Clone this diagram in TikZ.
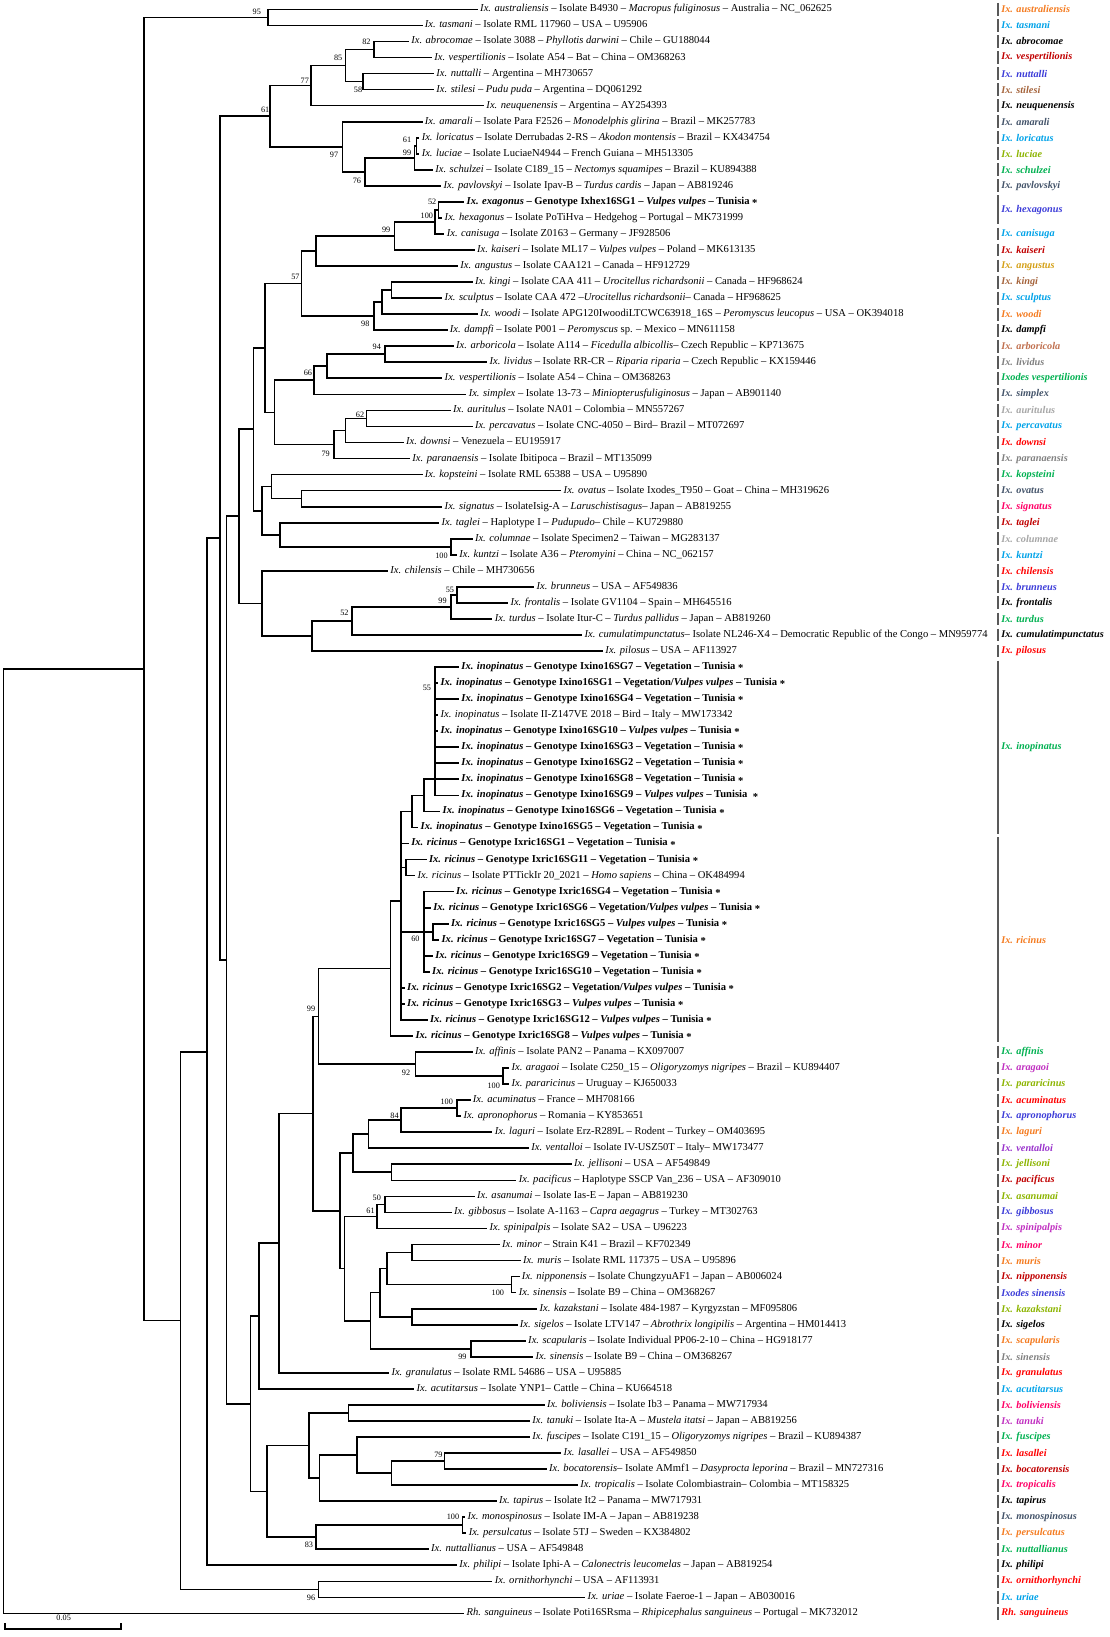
\documentclass[tikz,border=0pt]{standalone}
\usepackage{fontspec}
\setmainfont{Liberation Serif}
\usepackage{tikz}

\definecolor{tOrange}{HTML}{F47B20}
\definecolor{tSky}{HTML}{00A2E8}
\definecolor{tDarkRed}{HTML}{C00000}
\definecolor{tBlue}{HTML}{3C3CD8}
\definecolor{tBrown}{HTML}{A5643C}
\definecolor{tSlate}{HTML}{44546A}
\definecolor{tOlive}{HTML}{8CB400}
\definecolor{tGreen}{HTML}{00B050}
\definecolor{tGold}{HTML}{D4A017}
\definecolor{tSienna}{HTML}{C0704F}
\definecolor{tGray}{HTML}{808080}
\definecolor{tLightGray}{HTML}{A6A6A6}
\definecolor{tRed}{HTML}{FF0000}
\definecolor{tPink}{HTML}{FF0066}
\definecolor{tPurple}{HTML}{C030C0}
\definecolor{tViolet}{HTML}{9933CC}
\definecolor{barGray}{HTML}{595959}

\newcommand{\leaffont}{\fontsize{7.2}{8.6}\selectfont}
\newcommand{\bootfont}{\fontsize{5.6}{6.7}\selectfont}
\newcommand{\spfont}{\fontsize{7}{8.4}\selectfont\bfseries\itshape}
\newcommand{\tunstar}{\raisebox{-0.45ex}{*}}

\tikzset{
  branch/.style={line width=1.15pt, line cap=rect},
  leaf/.style={anchor=west, inner xsep=2pt, inner ysep=0pt, font=\leaffont, text height=5pt, text depth=1.6pt},
  tunis/.style={leaf, font=\leaffont\bfseries},
  boot/.style={inner sep=0pt, font=\bootfont},
  sp/.style={anchor=west, inner sep=0pt, font=\spfont, text=#1},
  spbar/.style={draw=barGray, line width=1.1pt}
}

\begin{document}
\begin{tikzpicture}[x=0.025cm, y=-0.3841cm]

\useasboundingbox (0,0.414) rectangle (1063,102.47);

% internal nodes of the tree
\coordinate (cRoot) at (3.4,71.56);
\coordinate (cTop) at (138,42.12);
\coordinate (cA1) at (257,1.5);
\coordinate (cB) at (173,82.74);
\coordinate (cC) at (198,65.98);
\coordinate (cD) at (305,99.5);
\coordinate (cE) at (211,33.96);
\coordinate (cE2) at (217,60.26);
\coordinate (c61) at (259,7.656);
\coordinate (c77) at (298,5.75);
\coordinate (c85) at (331,4.5);
\coordinate (c82) at (358,3.5);
\coordinate (c58) at (348,5.5);
\coordinate (c97) at (328,9.5625);
\coordinate (c76) at (350,11.125);
\coordinate (c99a) at (397,10.25);
\coordinate (c61b) at (399,9.5);
\coordinate (cM) at (229,32.6);
\coordinate (cGK) at (243,27.18);
\coordinate (cG1) at (254,22.11);
\coordinate (c57) at (289,18.09);
\coordinate (cAng) at (303,16.06);
\coordinate (c99b) at (378,15.125);
\coordinate (c100b) at (417,14.25);
\coordinate (c52a) at (420,13.5);
\coordinate (c98) at (358,20.125);
\coordinate (cK2) at (366,19.25);
\coordinate (cK1) at (375,18.5);
\coordinate (cW) at (263,26.125);
\coordinate (c66) at (301,24.125);
\coordinate (cV1) at (313,23.25);
\coordinate (c94) at (369,22.5);
\coordinate (c79) at (320,28.125);
\coordinate (cD1) at (331,27.25);
\coordinate (c62) at (351,26.5);
\coordinate (cKT) at (251,32.25);
\coordinate (cK) at (260,30.75);
\coordinate (cO1) at (289,31.5);
\coordinate (cT) at (268,33.75);
\coordinate (c100c) at (432,34.5);
\coordinate (cCH) at (251,38.03);
\coordinate (cPL) at (299,40.06);
\coordinate (c52b) at (337,39.125);
\coordinate (c99c) at (432,38.25);
\coordinate (c55) at (438,37.5);
\coordinate (cJ) at (240,87.93);
\coordinate (cAC) at (248,82.46);
\coordinate (cGR) at (267,77.92);
\coordinate (cU) at (300,69.84);
\coordinate (cIRA) at (305,63.78);
\coordinate (cIR) at (374,60.8);
\coordinate (cX1) at (384,56.6);
\coordinate (cP3) at (395,51);
\coordinate (cP2) at (406,50);
\coordinate (cP1) at (417,49);
\coordinate (cQ1) at (389,54.5);
\coordinate (cQ2) at (406,58.5);
\coordinate (cQ2b) at (415,58.5);
\coordinate (c92) at (398,66.75);
\coordinate (c100d) at (482,67.5);
\coordinate (cV) at (326,75.9);
\coordinate (cLJ) at (338,72.31);
\coordinate (cLV) at (353,71.125);
\coordinate (c84) at (384,70.25);
\coordinate (cAA) at (438,69.5);
\coordinate (cJP) at (375,73.5);
\coordinate (cV2) at (330,79.5);
\coordinate (c61c) at (361,76.25);
\coordinate (c50) at (369,75.5);
\coordinate (cMKS) at (355,82.75);
\coordinate (cMK) at (364,81);
\coordinate (cMN) at (371,79.5);
\coordinate (cMM) at (395,78.5);
\coordinate (cNS) at (490,80.5);
\coordinate (cKS) at (395,82.5);
\coordinate (cSS) at (451,84.5);
\coordinate (cH) at (256,93.39);
\coordinate (cI) at (296,90.53);
\coordinate (cBT) at (334,88.5);
\coordinate (cFT) at (306,92.56);
\coordinate (cFL) at (342,91.125);
\coordinate (cLT) at (375,92.25);
\coordinate (cLB) at (426,91.5);
\coordinate (c83) at (303,96.25);
\coordinate (cMP) at (443,95.5);

% leaves
\node[leaf] (aus) at (457,1) {\textit{Ix. australiensis} -- Isolate B4930 -- \textit{Macropus fuliginosus} -- Australia -- NC\_062625};
\node[leaf] (tas) at (404,2) {\textit{Ix. tasmani} -- Isolate RML 117960 -- USA -- U95906};
\node[leaf] (abr) at (391,3) {\textit{Ix. abrocomae} -- Isolate 3088 -- \textit{Phyllotis darwini} -- Chile -- GU188044};
\node[leaf] (ves) at (413,4) {\textit{Ix. vespertilionis} -- Isolate A54 -- Bat -- China -- OM368263};
\node[leaf] (nut) at (415,5) {\textit{Ix. nuttalli} -- Argentina -- MH730657};
\node[leaf] (sti) at (415,6) {\textit{Ix. stilesi} -- \textit{Pudu puda} -- Argentina -- DQ061292};
\node[leaf] (neu) at (463,7) {\textit{Ix. neuquenensis} -- Argentina -- AY254393};
\node[leaf] (ama) at (404,8) {\textit{Ix. amarali} -- Isolate Para F2526 -- \textit{Monodelphis glirina} -- Brazil -- MK257783};
\node[leaf] (lor) at (401,9) {\textit{Ix. loricatus} -- Isolate Derrubadas 2-RS -- \textit{Akodon montensis} -- Brazil -- KX434754};
\node[leaf] (luc) at (401,10) {\textit{Ix. luciae} -- Isolate LuciaeN4944 -- French Guiana -- MH513305};
\node[leaf] (sch) at (414,11) {\textit{Ix. schulzei} -- Isolate C189\_15 -- \textit{Nectomys squamipes} -- Brazil -- KU894388};
\node[leaf] (pav) at (422,12) {\textit{Ix. pavlovskyi} -- Isolate Ipav-B -- \textit{Turdus cardis} -- Japan -- AB819246};
\node[tunis] (exa) at (444,13) {\textit{Ix. exagonus} -- Genotype Ixhex16SG1 -- \textit{Vulpes vulpes} -- Tunisia \tunstar};
\node[leaf] (hex) at (423,14) {\textit{Ix. hexagonus} -- Isolate PoTiHva -- Hedgehog -- Portugal -- MK731999};
\node[leaf] (can) at (425,15) {\textit{Ix. canisuga} -- Isolate Z0163 -- Germany -- JF928506};
\node[leaf] (kai) at (454,16) {\textit{Ix. kaiseri} -- Isolate ML17 -- \textit{Vulpes vulpes} -- Poland -- MK613135};
\node[leaf] (ang) at (438,17) {\textit{Ix. angustus} -- Isolate CAA121 -- Canada -- HF912729};
\node[leaf] (kin) at (452,18) {\textit{Ix. kingi} -- Isolate CAA 411 -- \textit{Urocitellus richardsonii} -- Canada -- HF968624};
\node[leaf] (scu) at (423,19) {\textit{Ix. sculptus} -- Isolate CAA 472 --\textit{Urocitellus richardsonii}-- Canada -- HF968625};
\node[leaf] (woo) at (457,20) {\textit{Ix. woodi} -- Isolate APG120IwoodiLTCWC63918\_16S -- \textit{Peromyscus leucopus} -- USA -- OK394018};
\node[leaf] (dam) at (428,21) {\textit{Ix. dampfi} -- Isolate P001 -- \textit{Peromyscus} sp. -- Mexico -- MN611158};
\node[leaf] (arb) at (434,22) {\textit{Ix. arboricola} -- Isolate A114 -- \textit{Ficedulla albicollis}-- Czech Republic -- KP713675};
\node[leaf] (liv) at (466,23) {\textit{Ix. lividus} -- Isolate RR-CR -- \textit{Riparia riparia} -- Czech Republic -- KX159446};
\node[leaf] (ves2) at (423,24) {\textit{Ix. vespertilionis} -- Isolate A54 -- China -- OM368263};
\node[leaf] (sim) at (446,25) {\textit{Ix. simplex} -- Isolate 13-73 -- \textit{Miniopterusfuliginosus} -- Japan -- AB901140};
\node[leaf] (aur) at (431,26) {\textit{Ix. auritulus} -- Isolate NA01 -- Colombia -- MN557267};
\node[leaf] (per) at (452,27) {\textit{Ix. percavatus} -- Isolate CNC-4050 -- Bird-- Brazil -- MT072697};
\node[leaf] (dow) at (386,28) {\textit{Ix. downsi} -- Venezuela -- EU195917};
\node[leaf] (par) at (392,29) {\textit{Ix. paranaensis} -- Isolate Ibitipoca -- Brazil -- MT135099};
\node[leaf] (kop) at (404,30) {\textit{Ix. kopsteini} -- Isolate RML 65388 -- USA -- U95890};
\node[leaf] (ova) at (537,31) {\textit{Ix. ovatus} -- Isolate Ixodes\_T950 -- Goat -- China -- MH319626};
\node[leaf] (sig) at (423,32) {\textit{Ix. signatus} -- IsolateIsig-A -- \textit{Laruschistisagus}-- Japan -- AB819255};
\node[leaf] (tag) at (420,33) {\textit{Ix. taglei} -- Haplotype I -- \textit{Pudupudo}-- Chile -- KU729880};
\node[leaf] (col) at (452,34) {\textit{Ix. columnae} -- Isolate Specimen2 -- Taiwan -- MG283137};
\node[leaf] (kun) at (437,35) {\textit{Ix. kuntzi} -- Isolate A36 -- \textit{Pteromyini} -- China -- NC\_062157};
\node[leaf] (chi) at (371,36) {\textit{Ix. chilensis} -- Chile -- MH730656};
\node[leaf] (bru) at (511,37) {\textit{Ix. brunneus} -- USA -- AF549836};
\node[leaf] (fro) at (486,38) {\textit{Ix. frontalis} -- Isolate GV1104 -- Spain -- MH645516};
\node[leaf] (tur) at (471,39) {\textit{Ix. turdus} -- Isolate Itur-C -- \textit{Turdus pallidus} -- Japan -- AB819260};
\node[leaf] (cum) at (557,40) {\textit{Ix. cumulatimpunctatus}-- Isolate NL246-X4 -- Democratic Republic of the Congo -- MN959774};
\node[leaf] (pil) at (577,41) {\textit{Ix. pilosus} -- USA -- AF113927};
\node[tunis] (ino7) at (439,42) {\textit{Ix. inopinatus} -- Genotype Ixino16SG7 -- Vegetation -- Tunisia \tunstar};
\node[tunis] (ino1) at (419,43) {\textit{Ix. inopinatus} -- Genotype Ixino16SG1 -- Vegetation/\textit{Vulpes vulpes} -- Tunisia \tunstar};
\node[tunis] (ino4) at (439,44) {\textit{Ix. inopinatus} -- Genotype Ixino16SG4 -- Vegetation -- Tunisia \tunstar};
\node[leaf] (inoIT) at (419,45) {\textit{Ix. inopinatus} -- Isolate II-Z147VE 2018 -- Bird -- Italy -- MW173342};
\node[tunis] (ino10) at (419,46) {\textit{Ix. inopinatus} -- Genotype Ixino16SG10 -- \textit{Vulpes vulpes} -- Tunisia \tunstar};
\node[tunis] (ino3) at (439,47) {\textit{Ix. inopinatus} -- Genotype Ixino16SG3 -- Vegetation -- Tunisia \tunstar};
\node[tunis] (ino2) at (439,48) {\textit{Ix. inopinatus} -- Genotype Ixino16SG2 -- Vegetation -- Tunisia \tunstar};
\node[tunis] (ino8) at (439,49) {\textit{Ix. inopinatus} -- Genotype Ixino16SG8 -- Vegetation -- Tunisia \tunstar};
\node[tunis] (ino9) at (439,50) {\textit{Ix. inopinatus} -- Genotype Ixino16SG9 -- \textit{Vulpes vulpes} -- Tunisia \;\tunstar};
\node[tunis] (ino6) at (421,51) {\textit{Ix. inopinatus} -- Genotype Ixino16SG6 -- Vegetation -- Tunisia \tunstar};
\node[tunis] (ino5) at (400,52) {\textit{Ix. inopinatus} -- Genotype Ixino16SG5 -- Vegetation -- Tunisia \tunstar};
\node[tunis] (ric1) at (391,53) {\textit{Ix. ricinus} -- Genotype Ixric16SG1 -- Vegetation -- Tunisia \tunstar};
\node[tunis] (ric11) at (408,54) {\textit{Ix. ricinus} -- Genotype Ixric16SG11 -- Vegetation -- Tunisia \tunstar};
\node[leaf] (ricCN) at (397,55) {\textit{Ix. ricinus} -- Isolate PTTickIr 20\_2021 -- \textit{Homo sapiens} -- China -- OK484994};
\node[tunis] (ric4) at (434,56) {\textit{Ix. ricinus} -- Genotype Ixric16SG4 -- Vegetation -- Tunisia \tunstar};
\node[tunis] (ric6) at (412,57) {\textit{Ix. ricinus} -- Genotype Ixric16SG6 -- Vegetation/\textit{Vulpes vulpes} -- Tunisia \tunstar};
\node[tunis] (ric5) at (429,58) {\textit{Ix. ricinus} -- Genotype Ixric16SG5 -- \textit{Vulpes vulpes} -- Tunisia \tunstar};
\node[tunis] (ric7) at (420,59) {\textit{Ix. ricinus} -- Genotype Ixric16SG7 -- Vegetation -- Tunisia \tunstar};
\node[tunis] (ric9) at (414,60) {\textit{Ix. ricinus} -- Genotype Ixric16SG9 -- Vegetation -- Tunisia \tunstar};
\node[tunis] (ric10) at (411,61) {\textit{Ix. ricinus} -- Genotype Ixric16SG10 -- Vegetation -- Tunisia \tunstar};
\node[tunis] (ric2) at (387,62) {\textit{Ix. ricinus} -- Genotype Ixric16SG2 -- Vegetation/\textit{Vulpes vulpes} -- Tunisia \tunstar};
\node[tunis] (ric3) at (387,63) {\textit{Ix. ricinus} -- Genotype Ixric16SG3 -- \textit{Vulpes vulpes} -- Tunisia \tunstar};
\node[tunis] (ric12) at (409,64) {\textit{Ix. ricinus} -- Genotype Ixric16SG12 -- \textit{Vulpes vulpes} -- Tunisia \tunstar};
\node[tunis] (ric8) at (395,65) {\textit{Ix. ricinus} -- Genotype Ixric16SG8 -- \textit{Vulpes vulpes} -- Tunisia \tunstar};
\node[leaf] (aff) at (452,66) {\textit{Ix. affinis} -- Isolate PAN2 -- Panama -- KX097007};
\node[leaf] (ara) at (487,67) {\textit{Ix. aragaoi} -- Isolate C250\_15 -- \textit{Oligoryzomys nigripes} -- Brazil -- KU894407};
\node[leaf] (prr) at (487,68) {\textit{Ix. pararicinus} -- Uruguay -- KJ650033};
\node[leaf] (acu) at (450,69) {\textit{Ix. acuminatus} -- France -- MH708166};
\node[leaf] (apr) at (441,70) {\textit{Ix. apronophorus} -- Romania -- KY853651};
\node[leaf] (lag) at (471,71) {\textit{Ix. laguri} -- Isolate Erz-R289L -- Rodent -- Turkey -- OM403695};
\node[leaf] (ven) at (506,72) {\textit{Ix. ventalloi} -- Isolate IV-USZ50T -- Italy-- MW173477};
\node[leaf] (jel) at (547,73) {\textit{Ix. jellisoni} -- USA -- AF549849};
\node[leaf] (pac) at (494,74) {\textit{Ix. pacificus} -- Haplotype SSCP Van\_236 -- USA -- AF309010};
\node[leaf] (asa) at (454,75) {\textit{Ix. asanumai} -- Isolate Ias-E -- Japan -- AB819230};
\node[leaf] (gib) at (432,76) {\textit{Ix. gibbosus} -- Isolate A-1163 -- \textit{Capra aegagrus} -- Turkey -- MT302763};
\node[leaf] (spi) at (466,77) {\textit{Ix. spinipalpis} -- Isolate SA2 -- USA -- U96223};
\node[leaf] (min) at (478,78) {\textit{Ix. minor} -- Strain K41 -- Brazil -- KF702349};
\node[leaf] (mur) at (498,79) {\textit{Ix. muris} -- Isolate RML 117375 -- USA -- U95896};
\node[leaf] (nip) at (497,80) {\textit{Ix. nipponensis} -- Isolate ChungzyuAF1 -- Japan -- AB006024};
\node[leaf] (sin) at (494,81) {\textit{Ix. sinensis} -- Isolate B9 -- China -- OM368267};
\node[leaf] (kaz) at (514,82) {\textit{Ix. kazakstani} -- Isolate 484-1987 -- Kyrgyzstan -- MF095806};
\node[leaf] (sgl) at (495,83) {\textit{Ix. sigelos} -- Isolate LTV147 -- \textit{Abrothrix longipilis} -- Argentina -- HM014413};
\node[leaf] (sca) at (503,84) {\textit{Ix. scapularis} -- Isolate Individual PP06-2-10 -- China -- HG918177};
\node[leaf] (sin2) at (510,85) {\textit{Ix. sinensis} -- Isolate B9 -- China -- OM368267};
\node[leaf] (gra) at (372,86) {\textit{Ix. granulatus} -- Isolate RML 54686 -- USA -- U95885};
\node[leaf] (act) at (396,87) {\textit{Ix. acutitarsus} -- Isolate YNP1-- Cattle -- China -- KU664518};
\node[leaf] (bol) at (521,88) {\textit{Ix. boliviensis} -- Isolate Ib3 -- Panama -- MW717934};
\node[leaf] (tan) at (507,89) {\textit{Ix. tanuki} -- Isolate Ita-A -- \textit{Mustela itatsi} -- Japan -- AB819256};
\node[leaf] (fus) at (507,90) {\textit{Ix. fuscipes} -- Isolate C191\_15 -- \textit{Oligoryzomys nigripes} -- Brazil -- KU894387};
\node[leaf] (las) at (537,91) {\textit{Ix. lasallei} -- USA -- AF549850};
\node[leaf] (boc) at (523,92) {\textit{Ix. bocatorensis}-- Isolate AMmf1 -- \textit{Dasyprocta leporina} -- Brazil -- MN727316};
\node[leaf] (tro) at (553,93) {\textit{Ix. tropicalis} -- Isolate Colombiastrain-- Colombia -- MT158325};
\node[leaf] (tap) at (475,94) {\textit{Ix. tapirus} -- Isolate It2 -- Panama -- MW717931};
\node[leaf] (mon) at (445,95) {\textit{Ix. monospinosus} -- Isolate IM-A -- Japan -- AB819238};
\node[leaf] (prs) at (446,96) {\textit{Ix. persulcatus} -- Isolate 5TJ -- Sweden -- KX384802};
\node[leaf] (ntl) at (410,97) {\textit{Ix. nuttallianus} -- USA -- AF549848};
\node[leaf] (phi) at (437,98) {\textit{Ix. philipi} -- Isolate Iphi-A -- \textit{Calonectris leucomelas} -- Japan -- AB819254};
\node[leaf] (orn) at (471,99) {\textit{Ix. ornithorhynchi} -- USA -- AF113931};
\node[leaf] (uri) at (560,100) {\textit{Ix. uriae} -- Isolate Faeroe-1 -- Japan -- AB030016};
\node[leaf] (san) at (444,101) {\textit{Rh. sanguineus} -- Isolate Poti16SRsma -- \textit{Rhipicephalus sanguineus} -- Portugal -- MK732012};

% branches
\draw[branch] (cRoot) |- (cTop) (cRoot) |- (san);
\draw[branch] (cTop) |- (cA1) (cTop) |- (cB);
\draw[branch] (cA1) |- (aus) (cA1) |- (tas);
\draw[branch] (cB) |- (cC) (cB) |- (cD);
\draw[branch] (cD) |- (orn) (cD) |- (uri);
\draw[branch] (cC) |- (cE) (cC) |- (phi);
\draw[branch] (cE) |- (c61) (cE) |- (cE2);
\draw[branch] (c61) |- (c77) (c61) |- (c97);
\draw[branch] (c77) |- (c85) (c77) |- (neu);
\draw[branch] (c85) |- (c82) (c85) |- (c58);
\draw[branch] (c82) |- (abr) (c82) |- (ves);
\draw[branch] (c58) |- (nut) (c58) |- (sti);
\draw[branch] (c97) |- (ama) (c97) |- (c76);
\draw[branch] (c76) |- (c99a) (c76) |- (pav);
\draw[branch] (c99a) |- (c61b) (c99a) |- (sch);
\draw[branch] (c61b) |- (lor) (c61b) |- (luc);
\draw[branch] (cE2) |- (cM) (cE2) |- (cJ);
\draw[branch] (cM) |- (cGK) (cM) |- (cCH);
\draw[branch] (cGK) |- (cG1) (cGK) |- (cKT);
\draw[branch] (cG1) |- (c57) (cG1) |- (cW);
\draw[branch] (c57) |- (cAng) (c57) |- (c98);
\draw[branch] (cAng) |- (c99b) (cAng) |- (ang);
\draw[branch] (c99b) |- (c100b) (c99b) |- (kai);
\draw[branch] (c100b) |- (c52a) (c100b) |- (can);
\draw[branch] (c52a) |- (exa) (c52a) |- (hex);
\draw[branch] (c98) |- (cK2) (c98) |- (dam);
\draw[branch] (cK2) |- (cK1) (cK2) |- (woo);
\draw[branch] (cK1) |- (kin) (cK1) |- (scu);
\draw[branch] (cW) |- (c66) (cW) |- (c79);
\draw[branch] (c66) |- (cV1) (c66) |- (sim);
\draw[branch] (cV1) |- (c94) (cV1) |- (ves2);
\draw[branch] (c94) |- (arb) (c94) |- (liv);
\draw[branch] (c79) |- (cD1) (c79) |- (par);
\draw[branch] (cD1) |- (c62) (cD1) |- (dow);
\draw[branch] (c62) |- (aur) (c62) |- (per);
\draw[branch] (cKT) |- (cK) (cKT) |- (cT);
\draw[branch] (cK) |- (kop) (cK) |- (cO1);
\draw[branch] (cO1) |- (ova) (cO1) |- (sig);
\draw[branch] (cT) |- (tag) (cT) |- (c100c);
\draw[branch] (c100c) |- (col) (c100c) |- (kun);
\draw[branch] (cCH) |- (chi) (cCH) |- (cPL);
\draw[branch] (cPL) |- (c52b) (cPL) |- (pil);
\draw[branch] (c52b) |- (c99c) (c52b) |- (cum);
\draw[branch] (c99c) |- (c55) (c99c) |- (tur);
\draw[branch] (c55) |- (bru) (c55) |- (fro);
\draw[branch] (cJ) |- (cAC) (cJ) |- (cH);
\draw[branch] (cAC) |- (cGR) (cAC) |- (act);
\draw[branch] (cGR) |- (cU) (cGR) |- (gra);
\draw[branch] (cU) |- (cIRA) (cU) |- (cV);
\draw[branch] (cIRA) |- (cIR) (cIRA) |- (c92);
\draw[branch] (cIR) |- (cX1) (cIR) |- (ric8);
\draw[branch] (cX1) |- (cP3) (cX1) |- (ric1) (cX1) |- (cQ1) (cX1) |- (cQ2)
              (cX1) |- (ric2) (cX1) |- (ric3) (cX1) |- (ric12);
\draw[branch] (cP3) |- (cP2) (cP3) |- (ino5);
\draw[branch] (cP2) |- (cP1) (cP2) |- (ino6);
\draw[branch] (cP1) |- (ino7) (cP1) |- (ino1) (cP1) |- (ino4) (cP1) |- (inoIT) (cP1) |- (ino10)
              (cP1) |- (ino3) (cP1) |- (ino2) (cP1) |- (ino8) (cP1) |- (ino9);
\draw[branch] (cQ1) |- (ric11) (cQ1) |- (ricCN);
\draw[branch] (cQ2) |- (ric4) (cQ2) |- (ric6) (cQ2) |- (cQ2b) (cQ2) |- (ric9) (cQ2) |- (ric10);
\draw[branch] (cQ2b) |- (ric5) (cQ2b) |- (ric7);
\draw[branch] (c92) |- (aff) (c92) |- (c100d);
\draw[branch] (c100d) |- (ara) (c100d) |- (prr);
\draw[branch] (cV) |- (cLJ) (cV) |- (cV2);
\draw[branch] (cLJ) |- (cLV) (cLJ) |- (cJP);
\draw[branch] (cLV) |- (c84) (cLV) |- (ven);
\draw[branch] (c84) |- (cAA) (c84) |- (lag);
\draw[branch] (cAA) |- (acu) (cAA) |- (apr);
\draw[branch] (cJP) |- (jel) (cJP) |- (pac);
\draw[branch] (cV2) |- (c61c) (cV2) |- (cMKS);
\draw[branch] (c61c) |- (c50) (c61c) |- (spi);
\draw[branch] (c50) |- (asa) (c50) |- (gib);
\draw[branch] (cMKS) |- (cMK) (cMKS) |- (cSS);
\draw[branch] (cMK) |- (cMN) (cMK) |- (cKS);
\draw[branch] (cMN) |- (cMM) (cMN) |- (cNS);
\draw[branch] (cMM) |- (min) (cMM) |- (mur);
\draw[branch] (cNS) |- (nip) (cNS) |- (sin);
\draw[branch] (cKS) |- (kaz) (cKS) |- (sgl);
\draw[branch] (cSS) |- (sca) (cSS) |- (sin2);
\draw[branch] (cH) |- (cI) (cH) |- (c83);
\draw[branch] (cI) |- (cBT) (cI) |- (cFT);
\draw[branch] (cBT) |- (bol) (cBT) |- (tan);
\draw[branch] (cFT) |- (cFL) (cFT) |- (tap);
\draw[branch] (cFL) |- (fus) (cFL) |- (cLT);
\draw[branch] (cLT) |- (cLB) (cLT) |- (tro);
\draw[branch] (cLB) |- (las) (cLB) |- (boc);
\draw[branch] (c83) |- (cMP) (c83) |- (ntl);
\draw[branch] (cMP) |- (mon) (cMP) |- (prs);

% bootstrap values
\node[boot] (b1) at (246,1.13) {95};
\node[boot] (b2) at (351,3.02) {82};
\node[boot] (b3) at (324,3.99) {85};
\node[boot] (b4) at (292,5.43) {77};
\node[boot] (b5) at (343,6.01) {58};
\node[boot] (b6) at (254,7.25) {61};
\node[boot] (b7) at (390,9.14) {61};
\node[boot] (b8) at (320,10.05) {97};
\node[boot] (b9) at (390,9.92) {99};
\node[boot] (b10) at (342,11.67) {76};
\node[boot] (b11) at (414,12.98) {52};
\node[boot] (b12) at (409,13.89) {100};
\node[boot] (b13) at (370,14.73) {99};
\node[boot] (b14) at (283,17.66) {57};
\node[boot] (b15) at (350,20.59) {98};
\node[boot] (b16) at (361,22.02) {94};
\node[boot] (b17) at (295,23.65) {66};
\node[boot] (b18) at (345,26.25) {62};
\node[boot] (b19) at (312,28.73) {79};
\node[boot] (b20) at (423,35.04) {100};
\node[boot] (b21) at (431,37.19) {55};
\node[boot] (b22) at (424,37.84) {99};
\node[boot] (b23) at (330,38.62) {52};
\node[boot] (b24) at (409,43.31) {55};
\node[boot] (b25) at (398,58.93) {60};
\node[boot] (b26) at (298,63.29) {99};
\node[boot] (b27) at (389,67.32) {92};
\node[boot] (b28) at (473,68.1) {100};
\node[boot] (b29) at (428,69.08) {100};
\node[boot] (b30) at (378,69.99) {84};
\node[boot] (b31) at (361,75.07) {50};
\node[boot] (b32) at (355,75.92) {61};
\node[boot] (b33) at (477,80.99) {100};
\node[boot] (b34) at (443,85.03) {99};
\node[boot] (b35) at (420,91.08) {79};
\node[boot] (b36) at (434,94.99) {100};
\node[boot] (b37) at (296,96.74) {83};
\node[boot] (b38) at (298,100.0) {96};

% species column
\foreach \r in {1,...,12,15,16,...,41,66,67,...,101}
  \draw[spbar] (956,\r-0.4) -- (956,\r+0.4);
\draw[spbar] (956,12.6) -- (956,14.4);
\draw[spbar] (956,41.6) -- (956,52.4);
\draw[spbar] (956,52.6) -- (956,65.4);

\node[sp=tOrange] (sAus) at (959,1) {Ix. australiensis};
\node[sp=tSky] (sTas) at (959,2) {Ix. tasmani};
\node[sp=black] (sAbr) at (959,3) {Ix. abrocomae};
\node[sp=tDarkRed] (sVes) at (959,4) {Ix. vespertilionis};
\node[sp=tBlue] (sNut) at (959,5) {Ix. nuttalli};
\node[sp=tBrown] (sSti) at (959,6) {Ix. stilesi};
\node[sp=black] (sNeu) at (959,7) {Ix. neuquenensis};
\node[sp=tSlate] (sAma) at (959,8) {Ix. amarali};
\node[sp=tSky] (sLor) at (959,9) {Ix. loricatus};
\node[sp=tOlive] (sLuc) at (959,10) {Ix. luciae};
\node[sp=tGreen] (sSch) at (959,11) {Ix. schulzei};
\node[sp=tSlate] (sPav) at (959,12) {Ix. pavlovskyi};
\node[sp=tBlue] (sHex) at (959,13.5) {Ix. hexagonus};
\node[sp=tSky] (sCan) at (959,15) {Ix. canisuga};
\node[sp=tDarkRed] (sKai) at (959,16) {Ix. kaiseri};
\node[sp=tGold] (sAng) at (959,17) {Ix. angustus};
\node[sp=tBrown] (sKin) at (959,18) {Ix. kingi};
\node[sp=tSky] (sScu) at (959,19) {Ix. sculptus};
\node[sp=tOrange] (sWoo) at (959,20) {Ix. woodi};
\node[sp=black] (sDam) at (959,21) {Ix. dampfi};
\node[sp=tSienna] (sArb) at (959,22) {Ix. arboricola};
\node[sp=tGray] (sLiv) at (959,23) {Ix. lividus};
\node[sp=tGreen] (sVes2) at (959,24) {Ixodes vespertilionis};
\node[sp=tSlate] (sSim) at (959,25) {Ix. simplex};
\node[sp=tLightGray] (sAur) at (959,26) {Ix. auritulus};
\node[sp=tSky] (sPer) at (959,27) {Ix. percavatus};
\node[sp=tRed] (sDow) at (959,28) {Ix. downsi};
\node[sp=tGray] (sPar) at (959,29) {Ix. paranaensis};
\node[sp=tGreen] (sKop) at (959,30) {Ix. kopsteini};
\node[sp=tSlate] (sOva) at (959,31) {Ix. ovatus};
\node[sp=tPink] (sSig) at (959,32) {Ix. signatus};
\node[sp=tDarkRed] (sTag) at (959,33) {Ix. taglei};
\node[sp=tLightGray] (sCol) at (959,34) {Ix. columnae};
\node[sp=tSky] (sKun) at (959,35) {Ix. kuntzi};
\node[sp=tRed] (sChi) at (959,36) {Ix. chilensis};
\node[sp=tBlue] (sBru) at (959,37) {Ix. brunneus};
\node[sp=black] (sFro) at (959,38) {Ix. frontalis};
\node[sp=tGreen] (sTur) at (959,39) {Ix. turdus};
\node[sp=black] (sCum) at (959,40) {Ix. cumulatimpunctatus};
\node[sp=tRed] (sPil) at (959,41) {Ix. pilosus};
\node[sp=tGreen] (sIno) at (959,47) {Ix. inopinatus};
\node[sp=tOrange] (sRic) at (959,59) {Ix. ricinus};
\node[sp=tGreen] (sAff) at (959,66) {Ix. affinis};
\node[sp=tPurple] (sAra) at (959,67) {Ix. aragaoi};
\node[sp=tOlive] (sPrr) at (959,68) {Ix. pararicinus};
\node[sp=tRed] (sAcu) at (959,69) {Ix. acuminatus};
\node[sp=tBlue] (sApr) at (959,70) {Ix. apronophorus};
\node[sp=tOrange] (sLag) at (959,71) {Ix. laguri};
\node[sp=tViolet] (sVen) at (959,72) {Ix. ventalloi};
\node[sp=tOlive] (sJel) at (959,73) {Ix. jellisoni};
\node[sp=tDarkRed] (sPac) at (959,74) {Ix. pacificus};
\node[sp=tOlive] (sAsa) at (959,75) {Ix. asanumai};
\node[sp=tBlue] (sGib) at (959,76) {Ix. gibbosus};
\node[sp=tPurple] (sSpi) at (959,77) {Ix. spinipalpis};
\node[sp=tPink] (sMin) at (959,78) {Ix. minor};
\node[sp=tOrange] (sMur) at (959,79) {Ix. muris};
\node[sp=tDarkRed] (sNip) at (959,80) {Ix. nipponensis};
\node[sp=tBlue] (sSin) at (959,81) {Ixodes sinensis};
\node[sp=tOlive] (sKaz) at (959,82) {Ix. kazakstani};
\node[sp=black] (sSgl) at (959,83) {Ix. sigelos};
\node[sp=tOrange] (sSca) at (959,84) {Ix. scapularis};
\node[sp=tGray] (sSin2) at (959,85) {Ix. sinensis};
\node[sp=tRed] (sGra) at (959,86) {Ix. granulatus};
\node[sp=tSky] (sAct) at (959,87) {Ix. acutitarsus};
\node[sp=tPink] (sBol) at (959,88) {Ix. boliviensis};
\node[sp=tPurple] (sTan) at (959,89) {Ix. tanuki};
\node[sp=tGreen] (sFus) at (959,90) {Ix. fuscipes};
\node[sp=tRed] (sLas) at (959,91) {Ix. lasallei};
\node[sp=tDarkRed] (sBoc) at (959,92) {Ix. bocatorensis};
\node[sp=tPink] (sTro) at (959,93) {Ix. tropicalis};
\node[sp=black] (sTap) at (959,94) {Ix. tapirus};
\node[sp=tSlate] (sMon) at (959,95) {Ix. monospinosus};
\node[sp=tOrange] (sPrs) at (959,96) {Ix. persulcatus};
\node[sp=tGreen] (sNtl) at (959,97) {Ix. nuttallianus};
\node[sp=black] (sPhi) at (959,98) {Ix. philipi};
\node[sp=tRed] (sOrn) at (959,99) {Ix. ornithorhynchi};
\node[sp=tSky] (sUri) at (959,100) {Ix. uriae};
\node[sp=tRed] (sSan) at (959,101) {Rh. sanguineus};

% scale bar
\draw[branch] (5,101.65) -- (5,101.95) -- (116,101.95) -- (116,101.65);
\node[boot] (scale) at (61,101.3) {0.05};

\end{tikzpicture}
\end{document}
